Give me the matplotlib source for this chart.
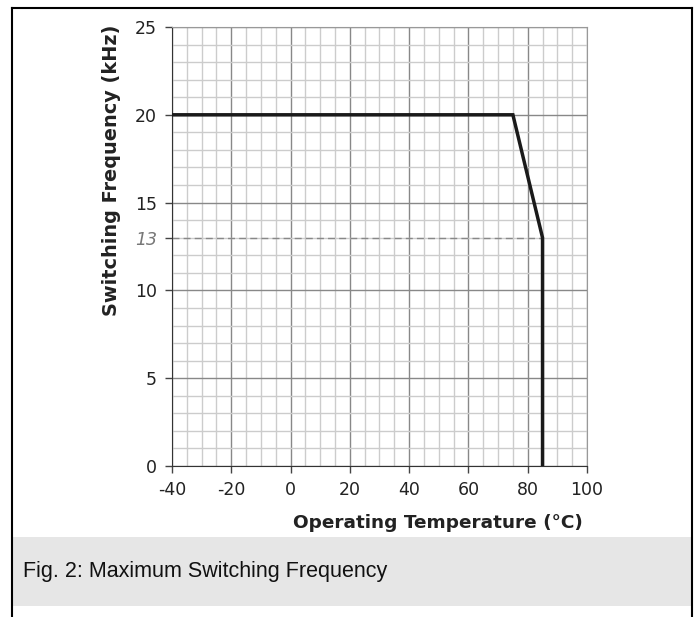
import matplotlib
matplotlib.use('Agg')
import matplotlib.pyplot as plt
from matplotlib.lines import Line2D
from matplotlib.patches import Rectangle

plt.rcParams['axes.unicode_minus'] = False

# данные кривой
temp = [-40, 75, 85, 85]
freq = [20, 20, 13, 0]
x_ticks = [-40, -20, 0, 20, 40, 60, 80, 100]
y_ticks = [0, 5, 10, 15, 20, 25]
y_mark = 13

W, H = 695, 617
fig = plt.figure(figsize=(W / 100, H / 100), dpi=100)

# рамка и подпись
fig.patches.append(Rectangle((13 / W, 1 - 606 / H), (691 - 13) / W, (606 - 537) / H,
                             transform=fig.transFigure, facecolor='#e6e6e6', edgecolor='none'))
for xs, ys in [([12, 692], [8, 8]), ([12, 12], [8, 617]), ([692, 692], [8, 617])]:
    fig.lines.append(Line2D([x / W for x in xs], [1 - y / H for y in ys],
                            transform=fig.transFigure, color='black', lw=1.5))
fig.text(23 / W, 1 - 571 / H, 'Fig. 2: Maximum Switching Frequency',
         family=['Liberation Sans Narrow', 'Liberation Sans'], fontsize=15.5,
         va='center', ha='left', color='#111111')

ax = fig.add_axes([172 / W, 1 - 466 / H, (587 - 172) / W, (466 - 27) / H])
ax.set_xlim(-40, 100)
ax.set_ylim(0, 25)

# сетка
for x in range(-40, 101, 5):
    ax.axvline(x, color='#888888' if x % 20 == 0 else '#cccccc', lw=1, zorder=1)
for y in range(0, 26):
    ax.axhline(y, color='#888888' if y % 5 == 0 else '#cccccc', lw=1, zorder=1)

ax.plot([-40, 85], [y_mark, y_mark], color='#888888', lw=1, ls=(0, (5, 3)), zorder=2)
ax.plot(temp, freq, color='#1a1a1a', lw=2.5, solid_joinstyle='miter', zorder=3)

ax.set_xticks(x_ticks)
ax.set_yticks(y_ticks + [y_mark])
ax.set_yticklabels([str(v) for v in y_ticks] + [str(y_mark)])
ax.tick_params(direction='out', length=5, width=1, color='#444444',
               labelsize=12.5, labelcolor='#222222', pad=6)
lbl = ax.get_yticklabels()[-1]
lbl.set_style('italic')
lbl.set_color('#777777')
ax.yaxis.get_major_ticks()[-1].tick1line.set_color('#999999')

for s in ['left', 'bottom']:
    ax.spines[s].set_color('#333333')
for s in ['top', 'right']:
    ax.spines[s].set_color('#999999')

ax.set_xlabel('Operating Temperature (°C)', fontsize=13.3, fontweight='bold',
              color='#222222')
ax.xaxis.set_label_coords(583 / W, 1 - 523 / H, transform=fig.transFigure)
ax.xaxis.label.set_ha('right')
ax.xaxis.label.set_va('center')
ax.set_ylabel('Switching Frequency (kHz)', fontsize=13.9, fontweight='bold',
              color='#222222')
ax.yaxis.set_label_coords(112 / W, 1 - 25 / H, transform=fig.transFigure)
ax.yaxis.label.set_ha('right')
ax.yaxis.label.set_va('center')

fig.savefig('out.png', dpi=100)
